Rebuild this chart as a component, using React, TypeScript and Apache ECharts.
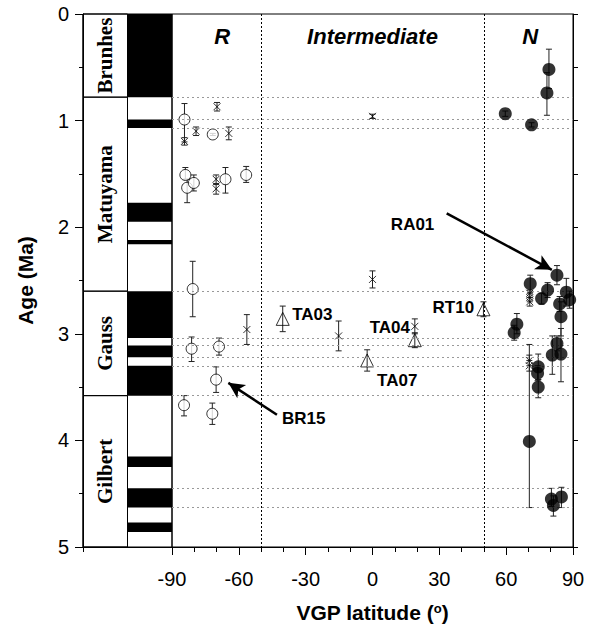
import React, { useEffect, useRef } from 'react';
import * as echarts from 'echarts';

// ---- Polarity time scale ----
const stageNames = ['Brunhes', 'Matuyama', 'Gauss', 'Gilbert'];
const stageBounds = [0, 0.78, 2.6, 3.58, 5.0];
const normalChrons = [
  [0, 0.78], [0.99, 1.07], [1.77, 1.95], [2.12, 2.16],
  [2.6, 3.04], [3.11, 3.22], [3.3, 3.58],
  [4.15, 4.25], [4.45, 4.63], [4.77, 4.86],
];
const boundaryAges = [0.78, 0.99, 1.07, 2.6, 3.04, 3.11, 3.22, 3.3, 3.58, 4.45, 4.63];
const transitionLats = [-50, 50];

// ---- Sites: [VGP latitude, age, ageMin, ageMax] ----
const reversedSites = [
  [-84.4, 0.99, 0.84, 1.2],
  [-71.7, 1.13, 1.12, 1.14],
  [-84.0, 1.51, 1.44, 1.55],
  [-83.2, 1.63, 1.55, 1.77],
  [-80.2, 1.585, 1.51, 1.66],
  [-66.0, 1.55, 1.44, 1.68],
  [-56.7, 1.51, 1.43, 1.58],
  [-80.7, 2.58, 2.32, 2.84],
  [-81.2, 3.14, 3.03, 3.26],
  [-68.9, 3.12, 3.04, 3.2],
  [-70.2, 3.43, 3.31, 3.55],
  [-84.6, 3.67, 3.58, 3.77],
  [-71.9, 3.75, 3.65, 3.85],
];
const intermediateSites = [
  [-69.8, 0.87, 0.83, 0.91],
  [-84.4, 1.195, 1.16, 1.23],
  [-79.2, 1.1, 1.06, 1.14],
  [-64.5, 1.12, 1.06, 1.18],
  [-70.2, 1.55, 1.51, 1.6],
  [-70.2, 1.64, 1.59, 1.69],
  [0, 0.96, 0.94, 0.98],
  [0, 2.49, 2.41, 2.57],
  [-56.4, 2.96, 2.82, 3.1],
  [-15.2, 3.02, 2.88, 3.16],
  [19, 2.93, 2.86, 3.0],
  [70.6, 2.62, 2.59, 2.66],
  [70.6, 2.66, 2.62, 2.7],
  [70.6, 2.7, 2.66, 2.74],
  [70.4, 3.25, 3.2, 3.3],
  [70.4, 3.3, 3.25, 3.35],
];
const transitionalSites = [
  [-40.3, 2.86, 2.74, 2.98],
  [-2.4, 3.25, 3.15, 3.35],
  [19, 3.06, 2.99, 3.13],
  [49.8, 2.77, 2.7, 2.84],
];
const normalSites = [
  [79.2, 0.52, 0.33, 0.7],
  [78.3, 0.74, 0.55, 0.95],
  [59.6, 0.935, 0.91, 0.96],
  [71.4, 1.04, 1.02, 1.06],
  [82.8, 2.45, 2.36, 2.54],
  [70.8, 2.53, 2.45, 2.61],
  [78.6, 2.59, 2.52, 2.66],
  [75.9, 2.67, 2.62, 2.72],
  [87.0, 2.61, 2.48, 2.74],
  [88.5, 2.68, 2.6, 2.76],
  [84.0, 2.72, 2.65, 2.79],
  [84.6, 2.84, 2.7, 3.02],
  [64.8, 2.91, 2.81, 3.0],
  [63.6, 2.99, 2.92, 3.06],
  [82.8, 3.09, 3.02, 3.16],
  [80.7, 3.2, 3.02, 3.38],
  [84.6, 3.19, 2.95, 3.45],
  [74.4, 3.31, 3.19, 3.43],
  [74.1, 3.37, 3.3, 3.44],
  [74.4, 3.5, 3.43, 3.6],
  [70.4, 4.01, 3.1, 4.63],
  [80.3, 4.55, 4.45, 4.62],
  [81.2, 4.61, 4.52, 4.71],
  [84.8, 4.53, 4.44, 4.63],
];

// ---- Annotations ----
const zoneNames = ['R', 'Intermediate', 'N'];
const zonePositions = [[-67.5, 0.21], [0, 0.21], [70.8, 0.21]];
const siteLabelNames = ['TA03', 'TA04', 'TA07', 'RT10', 'BR15', 'RA01'];
const siteLabelPositions = [[-27.0, 2.82], [7.8, 2.94], [11.1, 3.44], [36.3, 2.75], [-30.9, 3.79], [18.0, 1.97]];
const arrowFrom = [[-42.9, 3.76], [33.3, 1.87]];
const arrowTo = [[-64.7, 3.46], [80.5, 2.4]];

const SANS = 'Arial, "Liberation Sans", sans-serif';
const SERIF = '"Times New Roman", "Liberation Serif", serif';

function renderErrorBar(params: any, api: any) {
  const x = api.value(0);
  const p1 = api.coord([x, api.value(2)]);
  const p2 = api.coord([x, api.value(3)]);
  const w = 3;
  const style = { stroke: '#222', lineWidth: 1, fill: 'none' };
  return {
    type: 'group',
    children: [
      { type: 'line', shape: { x1: p1[0], y1: p1[1], x2: p2[0], y2: p2[1] }, style },
      { type: 'line', shape: { x1: p1[0] - w, y1: p1[1], x2: p1[0] + w, y2: p1[1] }, style },
      { type: 'line', shape: { x1: p2[0] - w, y1: p2[1], x2: p2[0] + w, y2: p2[1] }, style },
    ],
  };
}

function renderChron(params: any, api: any) {
  const a = api.coord([1, api.value(0)]);
  const b = api.coord([2, api.value(1)]);
  return {
    type: 'rect',
    shape: { x: a[0], y: a[1], width: b[0] - a[0], height: b[1] - a[1] },
    style: { fill: '#000', stroke: 'none' },
  };
}

function renderStage(params: any, api: any) {
  const a = api.coord([0, api.value(0)]);
  const b = api.coord([1, api.value(1)]);
  return {
    type: 'group',
    children: [
      {
        type: 'rect',
        shape: { x: a[0], y: a[1], width: b[0] - a[0], height: b[1] - a[1] },
        style: { fill: 'none', stroke: '#000', lineWidth: 1 },
      },
      {
        type: 'text',
        x: (a[0] + b[0]) / 2,
        y: (a[1] + b[1]) / 2,
        rotation: Math.PI / 2,
        style: {
          text: stageNames[params.dataIndex],
          align: 'center',
          verticalAlign: 'middle',
          fontSize: 21,
          fontWeight: 'bold',
          fontFamily: SERIF,
          fill: '#000',
        },
      },
    ],
  };
}

function makeTextRenderer(names: string[], fontSize: number, fontStyle: string) {
  return function (params: any, api: any) {
    const p = api.coord([api.value(0), api.value(1)]);
    return {
      type: 'text',
      x: p[0],
      y: p[1],
      style: {
        text: names[params.dataIndex],
        align: 'center',
        verticalAlign: 'middle',
        fontSize,
        fontWeight: 'bold',
        fontStyle,
        fontFamily: SANS,
        fill: '#000',
      },
    };
  };
}

const axisBlack = { lineStyle: { color: '#000', width: 1 } };

export default function App() {
  const ref = useRef<HTMLDivElement>(null);

  useEffect(() => {
    if (!ref.current) return;
    const chart = echarts.init(ref.current, undefined, { renderer: 'svg' });
    const allSites = [...reversedSites, ...intermediateSites, ...transitionalSites, ...normalSites];

    const option: any = {
      animation: false,
      backgroundColor: '#fff',
      grid: [
        { left: 83, top: 14, width: 89, height: 533, show: true, borderColor: '#000', borderWidth: 1 },
        { left: 172, top: 14, width: 401, height: 533, show: true, borderColor: '#000', borderWidth: 1 },
      ],
      xAxis: [
        {
          gridIndex: 0, type: 'value', min: 0, max: 2, interval: 2,
          axisLine: { onZero: false, ...axisBlack }, axisTick: { length: 5, ...axisBlack },
          axisLabel: { show: false }, splitLine: { show: false },
        },
        {
          gridIndex: 1, type: 'value', min: -90, max: 90, interval: 30,
          axisLine: { onZero: false, ...axisBlack },
          axisTick: { length: 8, ...axisBlack },
          minorTick: { show: true, splitNumber: 3, length: 5, ...axisBlack },
          axisLabel: { fontSize: 20, color: '#000', margin: 22, fontFamily: SANS },
          splitLine: { show: false },
          name: 'VGP latitude ({sup|o})',
          nameLocation: 'middle',
          nameGap: 55,
          nameTextStyle: {
            fontSize: 21, fontWeight: 'bold', color: '#000', fontFamily: SANS,
            rich: {
              sup: { fontSize: 13, fontWeight: 'bold', fontFamily: SANS, color: '#000', verticalAlign: 'top', lineHeight: 13, padding: [0, 0, 10, 0] },
            },
          },
        },
      ],
      yAxis: [
        {
          gridIndex: 0, type: 'value', inverse: true, min: 0, max: 5, interval: 1, position: 'left',
          axisLine: { onZero: false, ...axisBlack },
          axisTick: { length: 8, ...axisBlack },
          minorTick: { show: true, splitNumber: 2, length: 4, ...axisBlack },
          axisLabel: { fontSize: 20, color: '#000', margin: 14, fontFamily: SANS },
          splitLine: { show: false },
          name: 'Age (Ma)',
          nameLocation: 'middle',
          nameRotate: 90,
          nameGap: 47,
          nameTextStyle: { fontSize: 21, fontWeight: 'bold', color: '#000', fontFamily: SANS },
        },
        {
          gridIndex: 1, type: 'value', inverse: true, min: 0, max: 5, interval: 0.5, position: 'right',
          axisLine: { onZero: false, ...axisBlack },
          axisTick: { length: 5, ...axisBlack },
          axisLabel: { show: false }, splitLine: { show: false },
        },
      ],
      series: [
        {
          type: 'custom', name: 'stages', xAxisIndex: 0, yAxisIndex: 0,
          renderItem: renderStage, data: stageNames.map((_, i) => [stageBounds[i], stageBounds[i + 1]]),
          encode: { y: [0, 1] }, clip: false, silent: true, z: 2,
        },
        {
          type: 'custom', name: 'chrons', xAxisIndex: 0, yAxisIndex: 0,
          renderItem: renderChron, data: normalChrons,
          encode: { y: [0, 1] }, clip: false, silent: true, z: 2,
        },
        {
          type: 'scatter', name: 'guides', xAxisIndex: 1, yAxisIndex: 1,
          symbolSize: 1, itemStyle: { color: 'transparent' },
          data: [zonePositions[1]],
          z: 1, silent: true,
          markLine: {
            silent: true, symbol: ['none', 'none'], label: { show: false },
            data: [
              ...boundaryAges.map((a) => ({ yAxis: a, lineStyle: { color: '#999', type: [2, 3], width: 1 } })),
              ...transitionLats.map((l) => ({ xAxis: l, lineStyle: { color: '#000', type: [2, 2], width: 1 } })),
            ],
          },
        },
        {
          type: 'custom', name: 'errors', xAxisIndex: 1, yAxisIndex: 1,
          renderItem: renderErrorBar, data: allSites,
          encode: { x: 0, y: [1, 2, 3] }, clip: false, silent: true, z: 3,
        },
        {
          type: 'scatter', name: 'R', xAxisIndex: 1, yAxisIndex: 1, symbol: 'circle', symbolSize: 11,
          itemStyle: { color: '#fff', borderColor: '#000', borderWidth: 1 },
          data: reversedSites.map((d) => [d[0], d[1]]), z: 4,
        },
        {
          type: 'scatter', name: 'Intermediate', xAxisIndex: 1, yAxisIndex: 1,
          symbol: 'path://M0,0L10,10M10,0L0,10', symbolSize: 7,
          itemStyle: { color: 'transparent', borderColor: '#000', borderWidth: 1 },
          data: intermediateSites.map((d) => [d[0], d[1]]), z: 4,
        },
        {
          type: 'scatter', name: 'Transitional', xAxisIndex: 1, yAxisIndex: 1, symbol: 'triangle', symbolSize: 13,
          itemStyle: { color: 'transparent', borderColor: '#000', borderWidth: 1 },
          data: transitionalSites.map((d) => [d[0], d[1]]), z: 4,
        },
        {
          type: 'scatter', name: 'N', xAxisIndex: 1, yAxisIndex: 1, symbol: 'circle', symbolSize: 13,
          itemStyle: { color: '#000' },
          data: normalSites.map((d) => [d[0], d[1]]), z: 5,
        },
        {
          type: 'custom', name: 'zoneLabels', xAxisIndex: 1, yAxisIndex: 1,
          renderItem: makeTextRenderer(zoneNames, 22, 'italic'), data: zonePositions,
          encode: { x: 0, y: 1 }, clip: false, silent: true, z: 6,
        },
        {
          type: 'custom', name: 'siteLabels', xAxisIndex: 1, yAxisIndex: 1,
          renderItem: makeTextRenderer(siteLabelNames, 17, 'normal'), data: siteLabelPositions,
          encode: { x: 0, y: 1 }, clip: false, silent: true, z: 6,
        },
        {
          type: 'scatter', name: 'arrows', xAxisIndex: 1, yAxisIndex: 1,
          symbolSize: 1, itemStyle: { color: 'transparent' },
          data: arrowFrom, z: 6, silent: true,
          markLine: {
            silent: true, label: { show: false },
            symbol: ['none', 'arrow'], symbolSize: [12, 16],
            lineStyle: { color: '#000', width: 2.5, type: 'solid' },
            data: arrowFrom.map((f, i) => [{ coord: f }, { coord: arrowTo[i] }]),
          },
        },
      ],
    };
    chart.setOption(option);
    return () => chart.dispose();
  }, []);

  return <div ref={ref} style={{ position: 'fixed', left: 0, top: 0, width: 590, height: 635 }} />;
}
